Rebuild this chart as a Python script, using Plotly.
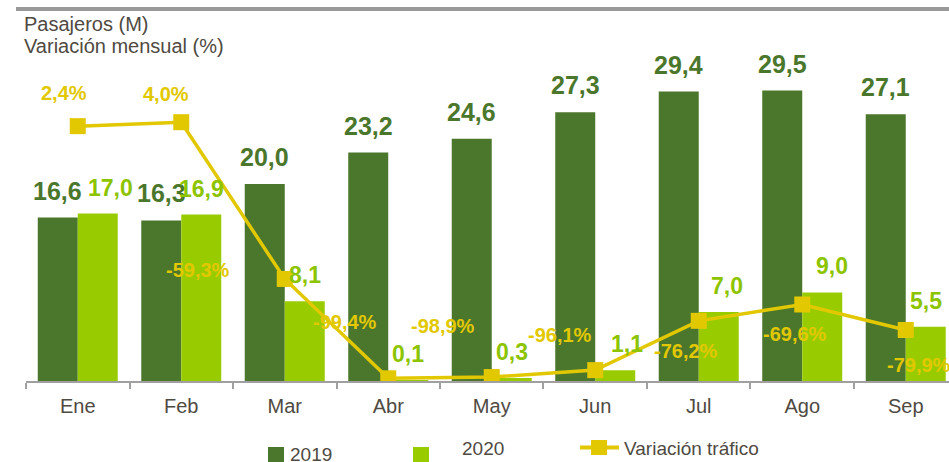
import plotly.graph_objects as go

months = ["Ene", "Feb", "Mar", "Abr", "May", "Jun", "Jul", "Ago", "Sep"]
pax_2019 = [16.6, 16.3, 20.0, 23.2, 24.6, 27.3, 29.4, 29.5, 27.1]
pax_2020 = [17.0, 16.9, 8.1, 0.1, 0.3, 1.1, 7.0, 9.0, 5.5]
variacion = [2.4, 4.0, -59.3, -99.4, -98.9, -96.1, -76.2, -69.6, -79.9]

# label offsets (pixels) used for placing the value labels
lbl2020_dx = [13, 0, 0, 0, 0, 12, 8, 10, 0]
var_label_dx = [-14, -15, -87, -43, -49, -35, -13, -7, 13]
var_label_dy = [33, 28, 9, 56, 51, 35, -30, -30, -35]

C2019 = "#4b772c"
C2020 = "#99cc00"
C2020_TXT = "#8cc400"
CLINE = "#e2c800"
CTXT = "#4f4a42"
FONT = "Liberation Sans, Arial, sans-serif"

W, H = 949, 462
ML, MR, MT, MB = 26, 0, 37, 81
PW, PH = W - ML - MR, H - MT - MB


def px_x(p):
    return (p - ML) / PW


def px_y(p):
    return (H - MB - p) / PH


def fmt(v):
    return f"{v:.1f}".replace(".", ",")


fig = go.Figure()
fig.add_trace(go.Bar(x=months, y=pax_2019, name="2019", marker_color=C2019,
                     marker_line_width=0, showlegend=False))
fig.add_trace(go.Bar(x=months, y=pax_2020, name="2020", marker_color=C2020,
                     marker_line_width=0, showlegend=False))
fig.add_trace(go.Scatter(x=months, y=variacion, name="Variación tráfico", yaxis="y2",
                         mode="lines+markers",
                         line=dict(color=CLINE, width=3.5),
                         marker=dict(symbol="square", size=16, color=CLINE),
                         showlegend=False))

ann = []
for m, v in zip(months, pax_2019):
    ann.append(dict(x=m, y=v, xref="x", yref="y", text=fmt(v), showarrow=False,
                    xshift=-20, yshift=27, yanchor="middle",
                    font=dict(family=FONT, size=25, color=C2019, weight="bold")))
for m, v, dx in zip(months, pax_2020, lbl2020_dx):
    ann.append(dict(x=m, y=v, xref="x", yref="y", text=fmt(v), showarrow=False,
                    xshift=20 + dx, yshift=26, yanchor="middle",
                    font=dict(family=FONT, size=23, color=C2020_TXT, weight="bold")))
for m, v, dx, dy in zip(months, variacion, var_label_dx, var_label_dy):
    ann.append(dict(x=m, y=v, xref="x", yref="y2", text=fmt(v) + "%", showarrow=False,
                    xshift=dx, yshift=dy, yanchor="middle",
                    font=dict(family=FONT, size=20, color=CLINE, weight="bold")))

# header texts
ann.append(dict(x=px_x(22), y=px_y(24), xref="paper", yref="paper", text="Pasajeros (M)",
                showarrow=False, xanchor="left", yanchor="middle",
                font=dict(family=FONT, size=20, color=CTXT)))
ann.append(dict(x=px_x(22), y=px_y(46), xref="paper", yref="paper", text="Variación mensual (%)",
                showarrow=False, xanchor="left", yanchor="middle",
                font=dict(family=FONT, size=20, color=CTXT)))

# legend texts
ann.append(dict(x=px_x(288), y=px_y(454), xref="paper", yref="paper", text="2019",
                showarrow=False, xanchor="left", yanchor="middle",
                font=dict(family=FONT, size=19, color=CTXT)))
ann.append(dict(x=px_x(460), y=px_y(448), xref="paper", yref="paper", text="2020",
                showarrow=False, xanchor="left", yanchor="middle",
                font=dict(family=FONT, size=19, color=CTXT)))
ann.append(dict(x=px_x(622), y=px_y(448), xref="paper", yref="paper", text="Variación tráfico",
                showarrow=False, xanchor="left", yanchor="middle",
                font=dict(family=FONT, size=19, color=CTXT)))

shapes = [
    dict(type="line", xref="paper", yref="paper", x0=px_x(16), x1=px_x(960),
         y0=px_y(9), y1=px_y(9), line=dict(color="#999999", width=4)),
    dict(type="rect", xref="paper", yref="paper", x0=px_x(268), x1=px_x(284),
         y0=px_y(447), y1=px_y(463), fillcolor=C2019, line_width=0),
    dict(type="rect", xref="paper", yref="paper", x0=px_x(413), x1=px_x(429),
         y0=px_y(447), y1=px_y(463), fillcolor=C2020, line_width=0),
    dict(type="line", xref="paper", yref="paper", x0=px_x(580), x1=px_x(619),
         y0=px_y(447.5), y1=px_y(447.5), line=dict(color=CLINE, width=4)),
    dict(type="rect", xref="paper", yref="paper", x0=px_x(591), x1=px_x(607),
         y0=px_y(440), y1=px_y(455), fillcolor=CLINE, line_width=0),
]

fig.update_layout(
    width=W, height=H,
    margin=dict(l=ML, r=MR, t=MT, b=MB, pad=0),
    paper_bgcolor="white", plot_bgcolor="white",
    barmode="group", bargap=0.227, bargroupgap=0,
    showlegend=False,
    annotations=ann, shapes=shapes,
    xaxis=dict(type="category", range=[-0.5, 8.418], showline=True, linecolor="#a0a0a0",
               linewidth=1.5, ticks="outside", tickson="boundaries", ticklen=6,
               tickcolor="#a0a0a0", tickwidth=1.5, showgrid=False, zeroline=False,
               ticklabelstandoff=6,
               tickfont=dict(family=FONT, size=20, color=CTXT)),
    yaxis=dict(range=[0, PH / 9.847], visible=False, showgrid=False, zeroline=False),
    yaxis2=dict(range=[-100.5, 38.4], overlaying="y", visible=False, showgrid=False,
                zeroline=False),
)

fig.write_html("out.html", config={"displayModeBar": False},
               post_script="document.body.style.margin='0';document.body.style.overflow='hidden';")
